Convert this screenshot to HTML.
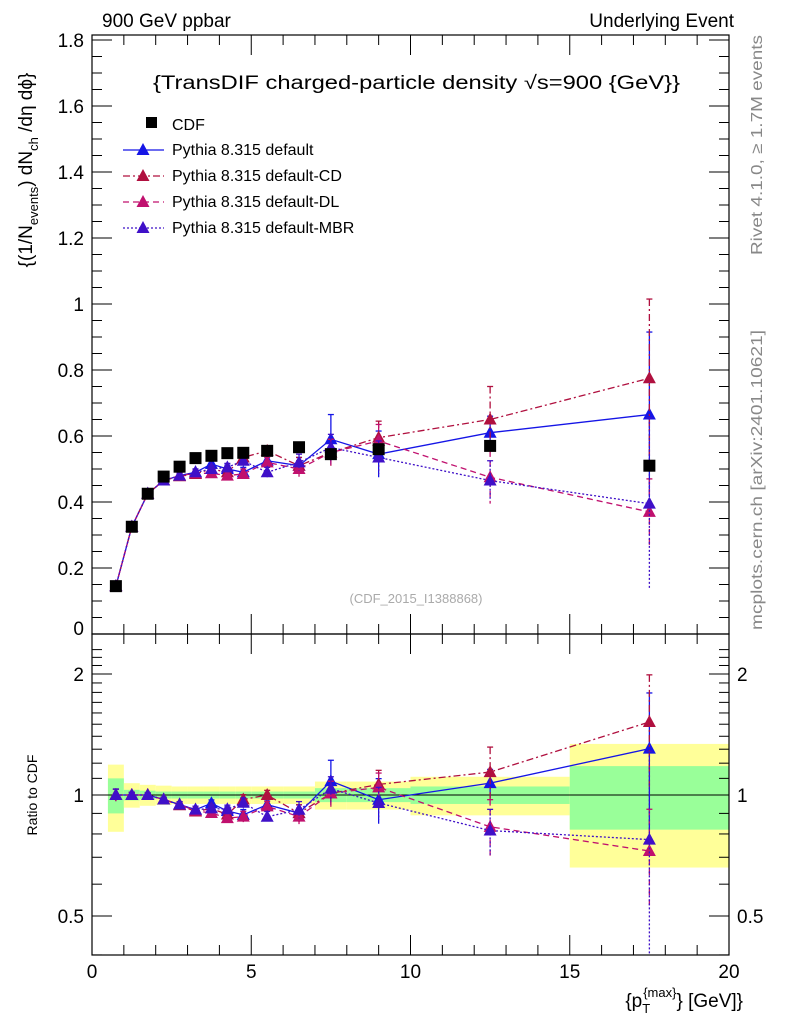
<!DOCTYPE html>
<html><head><meta charset="utf-8"><style>
body{margin:0;background:#fff;}
svg{font-family:"Liberation Sans",sans-serif;display:block}
</style></head><body>
<svg id="c" width="786" height="1024" viewBox="0 0 786 1024" xmlns="http://www.w3.org/2000/svg">
<text x="102" y="27" font-size="19">900 GeV ppbar</text>
<text x="734" y="27" font-size="19" text-anchor="end">Underlying Event</text>
<text x="153" y="89" font-size="19" textLength="527" lengthAdjust="spacingAndGlyphs">{TransDIF charged-particle density √s=900 {GeV}}</text>
<text transform="translate(762,255) rotate(-90)" font-size="16" fill="#888" textLength="220" lengthAdjust="spacingAndGlyphs">Rivet 4.1.0, ≥ 1.7M events</text>
<text transform="translate(762,630) rotate(-90)" font-size="16" fill="#888" textLength="300" lengthAdjust="spacingAndGlyphs">mcplots.cern.ch [arXiv:2401.10621]</text>
<text x="416" y="603" font-size="13" fill="#aaa" text-anchor="middle">(CDF_2015_I1388868)</text>
<text transform="translate(32,170) rotate(-90)" font-size="19" text-anchor="middle">{(1/N<tspan font-size="13" dy="6">events</tspan><tspan dy="-6">) dN</tspan><tspan font-size="13" dy="6">ch</tspan><tspan dy="-6"> /dη  dϕ}</tspan></text>
<text transform="translate(37,795) rotate(-90)" font-size="14" text-anchor="middle">Ratio to CDF</text>
<text x="743" y="1007" font-size="19" text-anchor="end">{p<tspan font-size="13" dy="6">T</tspan><tspan font-size="13" dy="-16" dx="-7">{max}</tspan><tspan dy="10">} [GeV]}</tspan></text>
<g id="g"></g>
</svg>
<script>
const xs=[0.75,1.25,1.75,2.25,2.75,3.25,3.75,4.25,4.75,5.5,6.5,7.5,9,12.5,17.5];
const edges=[0.5,1,1.5,2,2.5,3,3.5,4,4.5,5,6,7,8,10,15,20];
const cdf=[0.145,0.325,0.425,0.477,0.507,0.533,0.54,0.548,0.549,0.555,0.566,0.545,0.56,0.57,0.51];
const bandYel=[0.19,0.07,0.06,0.055,0.05,0.05,0.05,0.05,0.05,0.05,0.05,0.08,0.08,0.11,0.34];
const bandGrn=[0.10,0.03,0.025,0.02,0.02,0.02,0.02,0.02,0.02,0.02,0.02,0.04,0.04,0.05,0.18];
const vDef=[0.145,0.325,0.425,0.465,0.48,0.49,0.515,0.50,0.49,0.525,0.51,0.59,0.545,0.61,0.665];
const eDef=[0.005,0.005,0.005,0.006,0.008,0.01,0.01,0.012,0.015,0.015,0.025,0.075,0.07,0.05,0.25];
const vCD=[0.145,0.325,0.425,0.465,0.478,0.485,0.50,0.49,0.535,0.555,0.51,0.55,0.595,0.65,0.775];
const eCD=[0.005,0.005,0.005,0.006,0.008,0.01,0.01,0.012,0.015,0.015,0.025,0.04,0.05,0.1,0.24];
const vDL=[0.145,0.325,0.425,0.465,0.48,0.487,0.487,0.48,0.485,0.52,0.50,0.55,0.585,0.475,0.37];
const eDL=[0.005,0.005,0.005,0.006,0.008,0.01,0.01,0.012,0.015,0.015,0.025,0.04,0.05,0.08,0.1];
const vMBR=[0.145,0.325,0.425,0.465,0.48,0.49,0.50,0.505,0.525,0.49,0.52,0.565,0.535,0.465,0.395];
const eMBR=[0.005,0.005,0.005,0.006,0.008,0.01,0.01,0.012,0.015,0.015,0.025,0.04,0.05,0.06,0.26];
const yTicks=[0,0.2,0.4,0.6,0.8,1,1.2,1.4,1.6,1.8];
const yTickLabels=["0","0.2","0.4","0.6","0.8","1","1.2","1.4","1.6","1.8"];
const xTicks=[0,5,10,15,20];
const rTicks=[0.5,1,2];
const NS="http://www.w3.org/2000/svg";
const g=document.getElementById('g');
const L=92,R=729,T=35,M=634,B=955;
const X=v=>L+(v/20)*(R-L);
const Y=v=>M-v*330;
const RY=r=>795-Math.log2(r)*121;
function el(t,a){const e=document.createElementNS(NS,t);for(const k in a)e.setAttribute(k,a[k]);g.appendChild(e);return e;}
for(let i=0;i<15;i++){
 let e=el('rect',{x:X(edges[i]),y:RY(1+bandYel[i]),width:X(edges[i+1])-X(edges[i]),height:RY(1-bandYel[i])-RY(1+bandYel[i]),fill:'#ffff99'});
 
 e=el('rect',{x:X(edges[i]),y:RY(1+bandGrn[i]),width:X(edges[i+1])-X(edges[i]),height:RY(1-bandGrn[i])-RY(1+bandGrn[i]),fill:'#99ff99'});
 
}
let ln=el('line',{x1:L,x2:R,y1:RY(1),y2:RY(1),stroke:'#000','stroke-width':1});

let f=el('rect',{x:L,y:T,width:R-L,height:M-T,fill:'none',stroke:'#000','stroke-width':1.2});

f=el('rect',{x:L,y:M,width:R-L,height:B-M,fill:'none',stroke:'#000','stroke-width':1.2});

for(let v=0;v<=1.8001;v+=0.05){const maj=Math.abs(v/0.2-Math.round(v/0.2))<1e-6;const w=maj?20:10;
 el('line',{x1:L,x2:L+w,y1:Y(v),y2:Y(v),stroke:'#000'});el('line',{x1:R,x2:R-w,y1:Y(v),y2:Y(v),stroke:'#000'});}
yTicks.forEach((v,i)=>{const t=el('text',{x:L-8,y:Y(v)+(i==0?1:7),'font-size':19,'text-anchor':'end'});t.textContent=yTickLabels[i];
 });
for(let r=0.4;r<=2.4;r+=0.1){const y=RY(r);if(y<M||y>B)continue;const maj=rTicks.some(q=>Math.abs(q-r)<1e-6);const w=maj?20:10;
 el('line',{x1:L,x2:L+w,y1:y,y2:y,stroke:'#000'});el('line',{x1:R,x2:R-w,y1:y,y2:y,stroke:'#000'});}
rTicks.forEach(r=>{let t=el('text',{x:L-8,y:RY(r)+7,'font-size':19,'text-anchor':'end'});t.textContent=String(r);
 
 t=el('text',{x:R+8,y:RY(r)+7,'font-size':19});t.textContent=String(r);
 });
for(let v=0;v<=20.001;v+=1){const maj=v%5==0;const w=maj?20:10;
 [T,M].forEach(y0=>{el('line',{x1:X(v),x2:X(v),y1:y0,y2:y0+w,stroke:'#000'});});
 [M,B].forEach(y0=>{el('line',{x1:X(v),x2:X(v),y1:y0,y2:y0-w,stroke:'#000'});});}
xTicks.forEach(v=>{const t=el('text',{x:X(v),y:978,'font-size':19,'text-anchor':'middle'});t.textContent=String(v);
 });
const series=[
 {n:'default',v:vDef,e:eDef,c:'#1515e6',d:''},
 {n:'default-cd',v:vCD,e:eCD,c:'#b0103f',d:'7,3,2,3'},
 {n:'default-dl',v:vDL,e:eDL,c:'#c0106e',d:'6,4'},
 {n:'default-mbr',v:vMBR,e:eMBR,c:'#3f10c8',d:'2,2'}];
function tri(x,y,c,name){const p=el('polygon',{points:`${x},${y-7} ${x-6.5},${y+5} ${x+6.5},${y+5}`,fill:c});
 }
series.forEach(s=>{
 let pts=xs.map((x,i)=>X(x)+','+Y(s.v[i])).join(' ');
 let pl=el('polyline',{points:pts,fill:'none',stroke:s.c,'stroke-width':1.3,'stroke-dasharray':s.d});
 
 pts=xs.map((x,i)=>X(x)+','+RY(s.v[i]/cdf[i])).join(' ');
 pl=el('polyline',{points:pts,fill:'none',stroke:s.c,'stroke-width':1.3,'stroke-dasharray':s.d});
 
 xs.forEach((x,i)=>{
  const v=s.v[i],e=s.e[i];
  [[Y(v+e),Y(v-e),Y(v)],[RY((v+e)/cdf[i]),RY(Math.max(v-e,0.01)/cdf[i]),RY(v/cdf[i])]].forEach((q,k)=>{
   const y2=Math.min(q[1],k?B:M);
   el('line',{x1:X(x),x2:X(x),y1:q[0],y2:y2,stroke:s.c,'stroke-width':1.3,'stroke-dasharray':s.d});
   el('line',{x1:X(x)-3,x2:X(x)+3,y1:q[0],y2:q[0],stroke:s.c,'stroke-width':1.3});
   tri(X(x),q[2],s.c,(k?'ratio-point-':'point-')+s.n);
  });
 });
});
cdf.forEach((v,i)=>{const r=el('rect',{x:X(xs[i])-6,y:Y(v)-6,width:12,height:12,fill:'#000'});
 });
const lt=["Pythia 8.315 default","Pythia 8.315 default-CD","Pythia 8.315 default-DL","Pythia 8.315 default-MBR"];
let sq=el('rect',{x:146,y:117,width:11,height:11,fill:'#000'});
let t=el('text',{x:172,y:130,'font-size':16});t.textContent="CDF";
series.forEach((s,i)=>{const y=150+i*26;
 const l=el('line',{x1:123,x2:164,y1:y,y2:y,stroke:s.c,'stroke-width':1.3,'stroke-dasharray':s.d});
 
 tri(143,y,s.c,'legend-marker-'+s.n);
 const tt=el('text',{x:172,y:y+5,'font-size':16});tt.textContent=lt[i];
 });
</script>
</body></html>
